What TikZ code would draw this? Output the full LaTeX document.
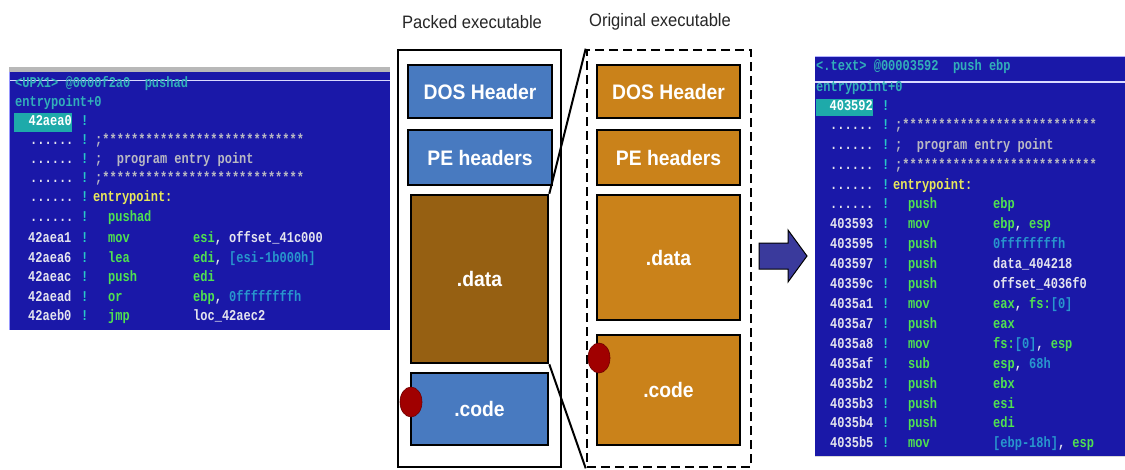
\documentclass[tikz,border=0pt]{standalone}
\usepackage{fontspec}
\usetikzlibrary{shapes.geometric}
\newfontfamily\dosfont[FakeStretch=0.8]{Liberation Mono Bold}
\newfontfamily\labfont[FakeStretch=0.92]{Liberation Sans}
\definecolor{scrblue}{RGB}{26,24,168}
\definecolor{addrw}{RGB}{228,228,238}
\definecolor{bangc}{RGB}{40,200,200}
\definecolor{dgreen}{RGB}{80,225,80}
\definecolor{cteal}{RGB}{40,150,205}
\definecolor{cmtgray}{RGB}{185,185,195}
\definecolor{lblyel}{RGB}{232,232,90}
\definecolor{hdrteal}{RGB}{50,175,185}
\definecolor{hlbg}{RGB}{30,170,170}
\definecolor{pblue}{RGB}{72,122,192}
\definecolor{pbrown}{RGB}{150,96,18}
\definecolor{porange}{RGB}{202,130,26}
\definecolor{dotred}{RGB}{160,0,0}
\definecolor{arrblue}{RGB}{58,58,156}
\newcommand\Rg[1]{\textcolor{dgreen}{#1}}
\newcommand\Cn[1]{\textcolor{cteal}{#1}}
\newcommand\Ws[1]{\textcolor{addrw}{#1}}
\tikzset{
  asm/.style={font=\dosfont\fontsize{15}{15}\selectfont, anchor=west, inner sep=0pt, text height=10pt, text depth=3pt},
  secbox/.style={draw=black, line width=2.6pt, text=white, font=\labfont\bfseries\fontsize{21}{21}\selectfont, inner sep=0pt},
  title/.style={font=\labfont\fontsize{18}{18}\selectfont, text=black!85, inner sep=0pt},
  reddot/.style={ellipse, fill=dotred, draw=dotred!70!black, line width=0.6pt, minimum width=22pt, minimum height=30pt, inner sep=0pt},
  zoomline/.style={line width=2pt, black},
}
% screen rows: y, addr, mnemonic, operands
\newcommand\asmL[4]{%
  \node[asm, text=addrw] at (28,#1) {#2};
  \node[asm, text=bangc] at (81,#1) {!};
  \node[asm, text=dgreen] at (108,#1) {#3};
  \node[asm, text=dgreen] at (193,#1) {#4};}
\newcommand\asmR[4]{%
  \node[asm, text=addrw] at (830,#1) {#2};
  \node[asm, text=bangc] at (882,#1) {!};
  \node[asm, text=dgreen] at (908,#1) {#3};
  \node[asm, text=dgreen] at (993,#1) {#4};}
\begin{document}
\begin{tikzpicture}[x=1pt,y=-1pt]
\useasboundingbox (0,0) rectangle (1125,469);
\fill[white] (0,0) rectangle (1125,469);

% ---------- left screen ----------
\fill[scrblue] (9,68) rectangle (390,330);
\fill[black!28] (9,67) rectangle (390,72);
\draw[white!85!blue, line width=1.2pt] (9,80.5) -- (390,80.5);
\draw[blue!40!white, line width=1pt] (9.5,72) -- (9.5,330);
\node[asm, text=hdrteal] (lhdr) at (15,84) {<UPX1> @0000f2a0\ \ pushad};
\node[asm, text=hdrteal] (lentry) at (15,103) {entrypoint+0};
\fill[hlbg] (14,113) rectangle (72,132);
\node[asm, text=white, anchor=east] (lhl) at (72,122) {42aea0};
\node[asm, text=bangc] at (81,122) {!};
\foreach \yy/\tx in {141/{;****************************},160/{;\ \ program entry point},179/{;****************************}}{
  \node[asm, text=addrw] at (30,\yy) {......};
  \node[asm, text=bangc] at (81,\yy) {!};
  \node[asm, text=cmtgray] at (95,\yy) {\tx};
}
\node[asm, text=addrw] at (30,198) {......};
\node[asm, text=bangc] at (81,198) {!};
\node[asm, text=lblyel] (llabel) at (93,198) {entrypoint:};
\node[asm, text=addrw] at (30,218) {......};
\node[asm, text=bangc] at (81,218) {!};
\node[asm, text=dgreen] at (108,218) {pushad};
\asmL{239}{42aea1}{mov}{esi\Ws{, offset\_41c000}}
\asmL{259}{42aea6}{lea}{edi\Ws{, }\Cn{[esi-1b000h]}}
\asmL{278}{42aeac}{push}{edi}
\asmL{298}{42aead}{or}{ebp\Ws{, }\Cn{0ffffffffh}}
\asmL{317}{42aeb0}{jmp}{\Ws{loc\_42aec2}}

% ---------- packed executable ----------
\node[title] (ptitle) at (472,22) {Packed executable};
\node[draw=black, line width=2.4pt, minimum width=163pt, minimum height=417pt, inner sep=0pt] (packed) at (479.5,258.5) {};
\node[secbox, fill=pblue, minimum width=144pt, minimum height=53pt] (pdos) at (480,91.5) {DOS Header};
\node[secbox, fill=pblue, minimum width=144pt, minimum height=55pt] (ppe) at (480,157.5) {PE headers};
\node[secbox, fill=pbrown, minimum width=137pt, minimum height=168pt] (pdata) at (479.5,279) {.data};
\node[secbox, fill=pblue, minimum width=137pt, minimum height=72pt] (pcode) at (479.5,409) {.code};
\node[reddot] (pdot) at (411,402) {};

% ---------- original executable ----------
\node[title] (otitle) at (660,22) {Original executable};
\node[draw=black, line width=2.6pt, dash pattern=on 9pt off 5pt, minimum width=164pt, minimum height=417pt, inner sep=0pt] (orig) at (669,258.5) {};
\node[secbox, fill=porange, minimum width=143pt, minimum height=53pt] (odos) at (668.5,91.5) {DOS Header};
\node[secbox, fill=porange, minimum width=143pt, minimum height=55pt] (ope) at (668.5,157.5) {PE headers};
\node[secbox, fill=porange, minimum width=143pt, minimum height=125pt] (odata) at (668.5,257.5) {.data};
\node[secbox, fill=porange, minimum width=143pt, minimum height=110pt] (ocode) at (668.5,390) {.code};
\node[reddot] (odot) at (599,358) {};

\draw[zoomline] (pdata.north east) -- (orig.north west);
\draw[zoomline] (pdata.south east) -- (orig.south west);

% ---------- arrow ----------
\filldraw[fill=arrblue, draw=black, line width=1pt, line join=miter]
  (759,243) -- (788,243) -- (788,230) -- (807,256) -- (788,282) -- (788,269) -- (759,269) -- cycle;

% ---------- right screen ----------
\fill[scrblue] (815,56) rectangle (1125,456);
\draw[blue!30!white, line width=0.8pt] (815,56.4) -- (1125,56.4);
\draw[blue!15!white, line width=1.6pt] (815,82) -- (1125,82);
\draw[black!15, line width=1.2pt] (815,456.6) -- (1125,456.6);
\node[asm, text=hdrteal] (rhdr) at (816,67) {<.text> @00003592\ \ push ebp};
\node[asm, text=hdrteal] (rentry) at (816,88) {entrypoint+0};
\fill[hlbg] (816,99) rectangle (873,116);
\node[asm, text=white, anchor=east] (rhl) at (873,107) {403592};
\node[asm, text=bangc] at (882,107) {!};
\foreach \yy/\tx in {126/{;***************************},146/{;\ \ program entry point},166/{;***************************}}{
  \node[asm, text=addrw] at (830,\yy) {......};
  \node[asm, text=bangc] at (882,\yy) {!};
  \node[asm, text=cmtgray] at (895,\yy) {\tx};
}
\node[asm, text=addrw] at (830,186) {......};
\node[asm, text=bangc] at (882,186) {!};
\node[asm, text=lblyel] (rlabel) at (893,186) {entrypoint:};
\asmR{205}{......}{push}{ebp}
\asmR{225}{403593}{mov}{ebp\Ws{, }esp}
\asmR{245}{403595}{push}{\Cn{0ffffffffh}}
\asmR{265}{403597}{push}{\Ws{data\_404218}}
\asmR{285}{40359c}{push}{\Ws{offset\_4036f0}}
\asmR{305}{4035a1}{mov}{eax\Ws{, }fs:\Cn{[0]}}
\asmR{325}{4035a7}{push}{eax}
\asmR{345}{4035a8}{mov}{fs:\Cn{[0]}\Ws{, }esp}
\asmR{365}{4035af}{sub}{esp\Ws{, }\Cn{68h}}
\asmR{385}{4035b2}{push}{ebx}
\asmR{405}{4035b3}{push}{esi}
\asmR{424}{4035b4}{push}{edi}
\asmR{444}{4035b5}{mov}{\Cn{[ebp-18h]}\Ws{, }esp}
\end{tikzpicture}
\end{document}
